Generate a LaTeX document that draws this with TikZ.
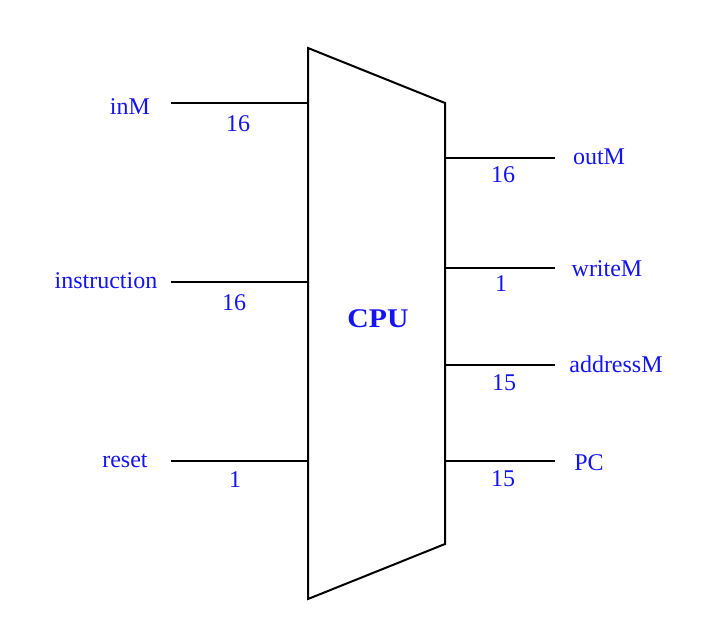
\documentclass[tikz,border=0pt]{standalone}
\usepackage{fontspec}
\setmainfont{Liberation Serif}
\newfontfamily\cpufont{Liberation Serif}[FakeStretch=1.1]
\definecolor{lbl}{RGB}{20,20,240}
\begin{document}
\begin{tikzpicture}[x=1pt,y=-1pt,
  wire/.style={line width=2pt,black},
  lab/.style={text=lbl,font=\fontsize{24}{28}\selectfont,inner sep=0pt},
  num/.style={text=lbl,font=\fontsize{24}{28}\selectfont,inner sep=0pt}]
\useasboundingbox (0,0) rectangle (718,625);
\draw[line width=2pt,line join=miter] (308,48) -- (445,103) -- (445,544) -- (308,599) -- cycle;
\node[text=lbl,font=\cpufont\bfseries\fontsize{27}{30}\selectfont] (cpu) at (378,319) {CPU};
% left wires
\coordinate (a1) at (171,103); \coordinate (b1) at (308,103);
\coordinate (a2) at (171,282); \coordinate (b2) at (308,282);
\coordinate (a3) at (171,461); \coordinate (b3) at (308,461);
\draw[wire] (a1) -- (b1);
\draw[wire] (a2) -- (b2);
\draw[wire] (a3) -- (b3);
\node[lab] (inM) at (130,107) {inM};
\node[lab] (instr) at (106,281) {instruction};
\node[lab] (reset) at (125,461) {reset};
\node[num] (n1) at (238,124) {16};
\node[num] (n2) at (234,303) {16};
\node[num] (n3) at (235,480) {1};
% right wires
\coordinate (c1) at (445,158); \coordinate (d1) at (555,158);
\coordinate (c2) at (445,268); \coordinate (d2) at (555,268);
\coordinate (c3) at (445,365); \coordinate (d3) at (555,365);
\coordinate (c4) at (445,461); \coordinate (d4) at (555,461);
\draw[wire] (c1) -- (d1);
\draw[wire] (c2) -- (d2);
\draw[wire] (c3) -- (d3);
\draw[wire] (c4) -- (d4);
\node[lab] (outM) at (599,157) {outM};
\node[lab] (writeM) at (607,269) {writeM};
\node[lab] (addrM) at (616,364) {addressM};
\node[lab] (pc) at (589,463) {PC};
\node[num] (m1) at (503,175) {16};
\node[num] (m2) at (501,284) {1};
\node[num] (m3) at (504,383) {15};
\node[num] (m4) at (503,479) {15};
\end{tikzpicture}
\end{document}
